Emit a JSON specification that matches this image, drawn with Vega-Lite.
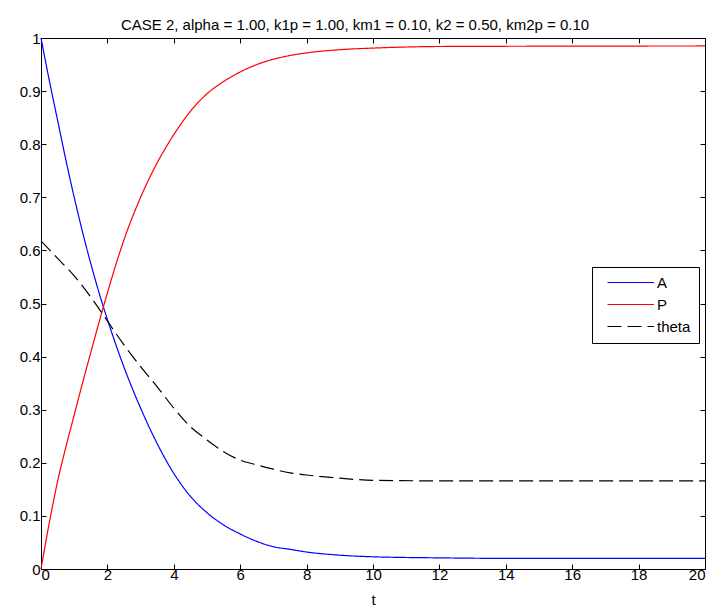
{
  "$schema": "https://vega.github.io/schema/vega-lite/v6.json",
  "width": 664,
  "height": 531,
  "autosize": {"type": "none"},
  "padding": {"left": 41, "top": 38, "right": 7, "bottom": 42},
  "background": "white",
  "title": {
    "text": "CASE 2, alpha = 1.00, k1p = 1.00, km1 = 0.10, k2 = 0.50, km2p = 0.10",
    "font": "Liberation Sans",
    "fontSize": 15,
    "fontWeight": "normal",
    "color": "black",
    "anchor": "middle",
    "frame": "group",
    "baseline": "alphabetic",
    "offset": -14,
    "dx": -18
  },
  "config": {
    "font": "Liberation Sans",
    "view": {"stroke": "black", "strokeWidth": 1},
    "axis": {
      "grid": false,
      "domainColor": "black",
      "tickColor": "black",
      "labelColor": "black",
      "labelFont": "Liberation Sans",
      "labelFontSize": 15,
      "titleFont": "Liberation Sans",
      "titleFontSize": 15,
      "titleFontWeight": "normal",
      "titleColor": "black",
      "tickSize": -5,
      "domainWidth": 1,
      "tickWidth": 1
    }
  },
  "data": {
    "values": [
      {"t": 0, "series": "A", "v": 1.0},
      {"t": 0.25, "series": "A", "v": 0.92},
      {"t": 0.5, "series": "A", "v": 0.845},
      {"t": 0.75, "series": "A", "v": 0.77},
      {"t": 1, "series": "A", "v": 0.7},
      {"t": 1.25, "series": "A", "v": 0.635},
      {"t": 1.5, "series": "A", "v": 0.575},
      {"t": 1.75, "series": "A", "v": 0.52},
      {"t": 2, "series": "A", "v": 0.47},
      {"t": 2.5, "series": "A", "v": 0.38},
      {"t": 3, "series": "A", "v": 0.303},
      {"t": 3.5, "series": "A", "v": 0.236},
      {"t": 4, "series": "A", "v": 0.18},
      {"t": 4.5, "series": "A", "v": 0.137},
      {"t": 5, "series": "A", "v": 0.106},
      {"t": 5.5, "series": "A", "v": 0.083},
      {"t": 6, "series": "A", "v": 0.066},
      {"t": 6.5, "series": "A", "v": 0.052},
      {"t": 7, "series": "A", "v": 0.042},
      {"t": 7.5, "series": "A", "v": 0.037},
      {"t": 8, "series": "A", "v": 0.032},
      {"t": 9, "series": "A", "v": 0.026},
      {"t": 10, "series": "A", "v": 0.023},
      {"t": 12, "series": "A", "v": 0.021},
      {"t": 14, "series": "A", "v": 0.02},
      {"t": 20, "series": "A", "v": 0.02},
      {"t": 0, "series": "P", "v": 0.0},
      {"t": 0.25, "series": "P", "v": 0.087},
      {"t": 0.5, "series": "P", "v": 0.165},
      {"t": 0.75, "series": "P", "v": 0.23},
      {"t": 1, "series": "P", "v": 0.29},
      {"t": 1.25, "series": "P", "v": 0.35},
      {"t": 1.5, "series": "P", "v": 0.408},
      {"t": 1.75, "series": "P", "v": 0.465},
      {"t": 2, "series": "P", "v": 0.52},
      {"t": 2.5, "series": "P", "v": 0.62},
      {"t": 3, "series": "P", "v": 0.7},
      {"t": 3.5, "series": "P", "v": 0.765},
      {"t": 4, "series": "P", "v": 0.818},
      {"t": 4.5, "series": "P", "v": 0.862},
      {"t": 5, "series": "P", "v": 0.895},
      {"t": 5.5, "series": "P", "v": 0.918},
      {"t": 6, "series": "P", "v": 0.936},
      {"t": 6.5, "series": "P", "v": 0.95},
      {"t": 7, "series": "P", "v": 0.96},
      {"t": 7.5, "series": "P", "v": 0.967},
      {"t": 8, "series": "P", "v": 0.972},
      {"t": 9, "series": "P", "v": 0.978},
      {"t": 10, "series": "P", "v": 0.981},
      {"t": 12, "series": "P", "v": 0.984},
      {"t": 20, "series": "P", "v": 0.985},
      {"t": 0, "series": "theta", "v": 0.618},
      {"t": 0.5, "series": "theta", "v": 0.585},
      {"t": 1, "series": "theta", "v": 0.552},
      {"t": 1.5, "series": "theta", "v": 0.512},
      {"t": 2, "series": "theta", "v": 0.467},
      {"t": 2.5, "series": "theta", "v": 0.422},
      {"t": 3, "series": "theta", "v": 0.381},
      {"t": 3.5, "series": "theta", "v": 0.343},
      {"t": 4, "series": "theta", "v": 0.303},
      {"t": 4.5, "series": "theta", "v": 0.268},
      {"t": 5, "series": "theta", "v": 0.243},
      {"t": 5.5, "series": "theta", "v": 0.221},
      {"t": 6, "series": "theta", "v": 0.205},
      {"t": 6.5, "series": "theta", "v": 0.196},
      {"t": 7, "series": "theta", "v": 0.188},
      {"t": 7.5, "series": "theta", "v": 0.181},
      {"t": 8, "series": "theta", "v": 0.177},
      {"t": 9, "series": "theta", "v": 0.171},
      {"t": 10, "series": "theta", "v": 0.167},
      {"t": 12, "series": "theta", "v": 0.166},
      {"t": 20, "series": "theta", "v": 0.166}
    ]
  },
  "layer": [
    {
      "mark": {"type": "line", "strokeWidth": 1.2, "interpolate": "monotone"},
      "encoding": {
        "x": {
          "field": "t", "type": "quantitative",
          "scale": {"domain": [0, 20], "nice": false, "zero": false},
          "axis": {"values": [0, 2, 4, 6, 8, 10, 12, 14, 16, 18, 20], "title": "t", "labelPadding": 3, "titlePadding": 10}
        },
        "y": {
          "field": "v", "type": "quantitative",
          "scale": {"domain": [0, 1], "nice": false},
          "axis": {"values": [0, 0.1, 0.2, 0.3, 0.4, 0.5, 0.6, 0.7, 0.8, 0.9, 1], "format": "~g", "title": null, "labelPadding": 6}
        },
        "color": {
          "field": "series", "type": "nominal",
          "scale": {"domain": ["A", "P", "theta"], "range": ["#0000ff", "#ff0000", "#000000"]},
          "legend": {
            "title": null, "orient": "none", "legendX": 551, "legendY": 229,
            "fillColor": "white", "strokeColor": "black", "padding": 8,
            "symbolType": "M0,0H15.5", "symbolSize": 36, "symbolStrokeWidth": 1.2,
            "labelFontSize": 15, "labelFont": "Liberation Sans", "labelColor": "black",
            "labelOffset": 42, "rowPadding": 6, "cornerRadius": 0
          }
        },
        "strokeDash": {
          "field": "series", "type": "nominal",
          "scale": {"domain": ["A", "P", "theta"], "range": [[1, 0], [1, 0], [14, 6]]},
          "legend": {
            "title": null, "orient": "none", "legendX": 551, "legendY": 229,
            "fillColor": "white", "strokeColor": "black", "padding": 8,
            "symbolType": "M0,0H15.5", "symbolSize": 36, "symbolStrokeWidth": 1.2,
            "labelFontSize": 15, "labelFont": "Liberation Sans", "labelColor": "black",
            "labelOffset": 42, "rowPadding": 6, "cornerRadius": 0
          }
        }
      }
    },
    {
      "mark": {"type": "point", "opacity": 0},
      "encoding": {
        "x": {
          "field": "t", "type": "quantitative",
          "axis": {"values": [0, 2, 4, 6, 8, 10, 12, 14, 16, 18, 20], "labels": false, "title": null, "orient": "top"}
        },
        "y": {
          "field": "v", "type": "quantitative",
          "axis": {"values": [0, 0.1, 0.2, 0.3, 0.4, 0.5, 0.6, 0.7, 0.8, 0.9, 1], "labels": false, "title": null, "orient": "right"}
        }
      }
    }
  ],
  "resolve": {"axis": {"x": "independent", "y": "independent"}}
}
